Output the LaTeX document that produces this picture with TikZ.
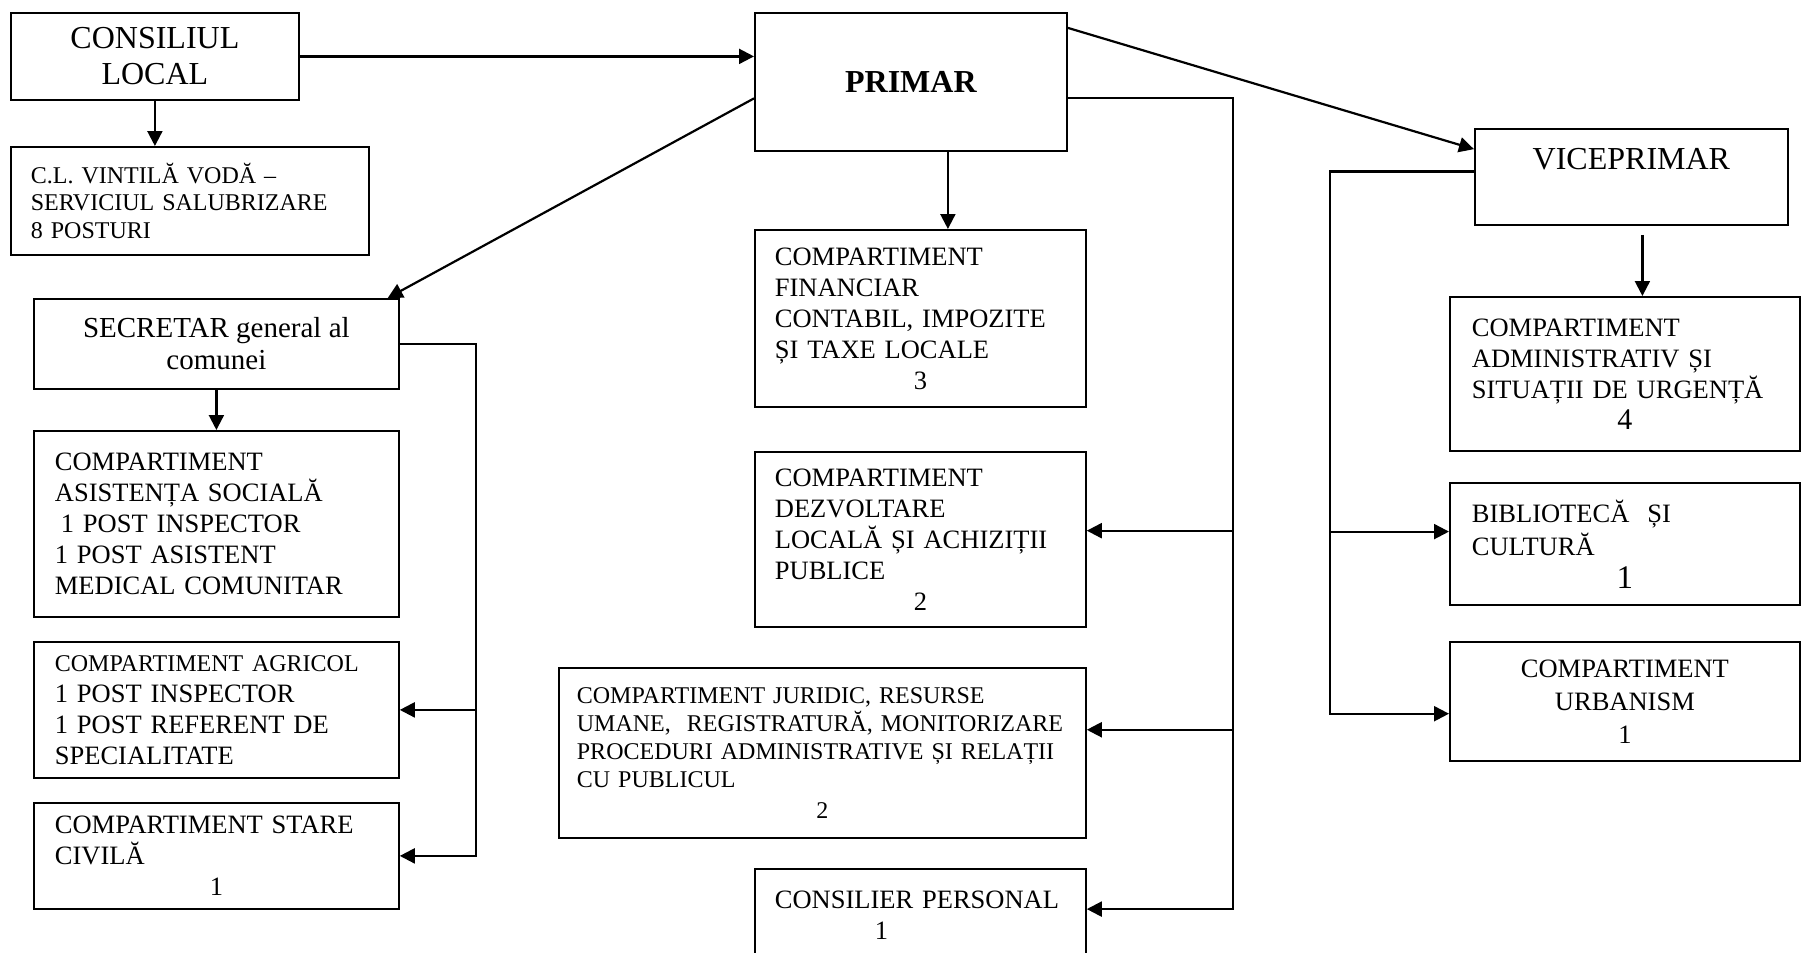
\documentclass[tikz,border=0pt]{standalone}
\usepackage{fontspec}
\setmainfont{Liberation Serif}
\usetikzlibrary{arrows.meta, calc}
\tikzstyle{unit} = [rectangle, draw=black, line width=0.9pt, anchor=north west, align=left, inner ysep=0pt]
\tikzstyle{head} = [unit, align=center, font=\fontsize{16}{18}\selectfont]
\tikzstyle{dept} = [unit, inner xsep=10pt, font=\fontsize{13.25}{15.5}\selectfont]
\tikzstyle{small} = [unit, inner xsep=10pt, font=\fontsize{12}{13.75}\selectfont]
\tikzstyle{arrow} = [line width=1.1pt, -{Triangle[length=7.5pt, width=7.5pt]}]

\begin{document}
\begin{tikzpicture}[x=0.5pt, y=-0.5pt]
\clip (0,0) rectangle (1801,953);
\fill[white] (0,0) rectangle (1801,953);
% top level
\node (council) [head, minimum width=144pt, minimum height=43.5pt] at (10,12) {CONSILIUL\\LOCAL};
\node (salub) [small, text width=159pt, minimum width=179pt, minimum height=54pt] at (10,146) {C.L. VINTILĂ VODĂ –\\SERVICIUL SALUBRIZARE\\8 POSTURI};
\node (primar) [head, font=\fontsize{16}{18}\selectfont\bfseries, minimum width=156pt, minimum height=69pt] at (754,12) {PRIMAR};
\node (vice) [head, minimum width=156.5pt, minimum height=48pt] at (1474,128) {VICEPRIMAR\\\mbox{}};
% secretar column
\node (secretar) [head, font=\fontsize{14.5}{16}\selectfont, minimum width=182.5pt, minimum height=45pt] at (33,298) {SECRETAR general al\\comunei};
\node (asist) [dept, inner xsep=10.5pt, text width=161.5pt, minimum width=182.5pt, minimum height=93pt] at (33,430) {COMPARTIMENT\\ASISTENȚA SOCIALĂ\\\hspace*{3pt}1 POST INSPECTOR\\1 POST ASISTENT\\MEDICAL COMUNITAR};
\node (agric) [dept, inner xsep=10.5pt, text width=161.5pt, minimum width=182.5pt, minimum height=68pt] at (33,641) {{\fontsize{12}{13.75}\selectfont COMPARTIMENT AGRICOL}\\1 POST INSPECTOR\\1 POST REFERENT DE\\SPECIALITATE};
\node (stare) [dept, inner xsep=10.5pt, text width=161.5pt, minimum width=182.5pt, minimum height=53pt] at (33,802) {COMPARTIMENT STARE\\CIVILĂ\\\makebox[\linewidth]{1}};
% primar column
\node (finan) [dept, text width=145.5pt, minimum width=165.5pt, minimum height=88.5pt] at (754,229) {COMPARTIMENT\\FINANCIAR\\CONTABIL, IMPOZITE\\ȘI TAXE LOCALE\\\makebox[\linewidth]{3}};
\node (dezv) [dept, text width=145.5pt, minimum width=165.5pt, minimum height=87.5pt] at (754,451) {COMPARTIMENT\\DEZVOLTARE\\LOCALĂ ȘI ACHIZIȚII\\PUBLICE\\\makebox[\linewidth]{2}};
\node (jurid) [small, inner xsep=9pt, text width=245.5pt, minimum width=263.5pt, minimum height=85pt, font=\fontsize{12}{14}\selectfont] at (558,667) {COMPARTIMENT JURIDIC, RESURSE\\UMANE,\ \ REGISTRATURĂ, MONITORIZARE\\PROCEDURI ADMINISTRATIVE ȘI RELAȚII\\CU PUBLICUL\\[1.5pt]\makebox[\linewidth]{2}};
\node (consil) [dept, text width=145.5pt, minimum width=165.5pt, minimum height=46pt] at (754,868) {CONSILIER PERSONAL\\\hspace*{50pt}1};
% viceprimar column
\node (admin) [dept, inner xsep=11pt, text width=153pt, minimum width=175pt, minimum height=77pt] at (1449,296) {COMPARTIMENT\\ADMINISTRATIV ȘI\\SITUAȚII DE URGENȚĂ\\\makebox[\linewidth]{\fontsize{15}{15.5}\selectfont 4}};
\node (biblio) [dept, inner xsep=11pt, text width=153pt, minimum width=175pt, minimum height=61pt, font=\fontsize{13.25}{16.5}\selectfont] at (1449,482) {BIBLIOTECĂ\hspace{9pt}ȘI\\CULTURĂ\\\makebox[\linewidth]{\fontsize{16.5}{16.5}\selectfont 1}};
\node (urban) [dept, align=center, inner xsep=11pt, text width=153pt, minimum width=175pt, minimum height=59.5pt, font=\fontsize{13.25}{16.5}\selectfont] at (1449,641) {COMPARTIMENT\\URBANISM\\1};

\draw [arrow] (council.south) -- (council.south |- salub.north);
\draw [arrow] (council.east) -- (council.east -| primar.west);
\draw [arrow] (primar.186) -- (secretar.15);
\draw [arrow] (primar.19) -- (vice.170);
\coordinate (pdrop) at ($(primar.south)+(37,0)$);
\draw [arrow] (pdrop) -- (pdrop |- finan.north);
% primar bus
\coordinate (pbus) at (1233,0);
\draw [arrow] (primar.354) -| (pbus |- consil.2) -- (consil.2);
\draw [arrow] (pbus |- dezv.3) -- (dezv.3);
\draw [arrow] (pbus |- jurid.5) -- (jurid.5);
% secretar bus
\draw [arrow] (secretar.south) -- (asist.north);
\coordinate (sbus) at (476,0);
\draw [arrow] (secretar.east) -| (sbus |- stare.east) -- (stare.east);
\draw [arrow] (sbus |- agric.east) -- (agric.east);
% viceprimar bus
\coordinate (vbus) at (1330,0);
\draw [arrow] (vice.178) -| (vbus |- urban.184) -- (urban.184);
\draw [arrow] (vbus |- biblio.176) -- (biblio.176);
\coordinate (vdrop) at ($(vice.south)+(11,9)$);
\draw [arrow] (vdrop) -- (vdrop |- admin.north);
\end{tikzpicture}
\end{document}
